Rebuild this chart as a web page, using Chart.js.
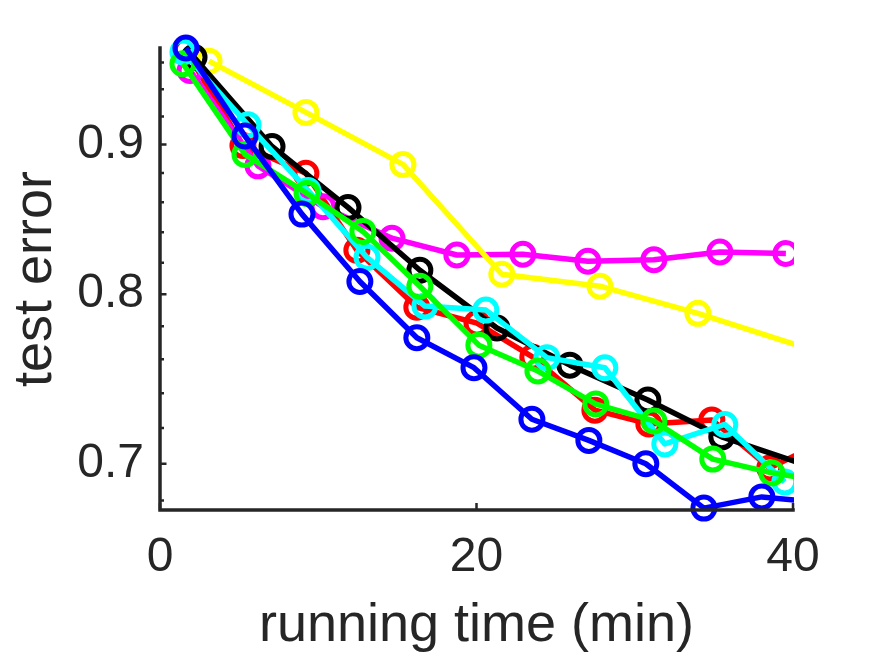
<!DOCTYPE html>
<html>
<head>
<meta charset="utf-8">
<title>test error vs running time</title>
<script src="https://cdn.jsdelivr.net/npm/chart.js@4.4.1/dist/chart.umd.min.js"></script>
<style>
  html, body { margin: 0; padding: 0; background: #ffffff; }
  #wrap { width: 875px; height: 656px; }
</style>
</head>
<body>
<div id="wrap"><canvas id="chart" width="875" height="656"></canvas></div>
<script>
// running time (min) / test error per run
const blueTime  = [1.64, 5.37, 8.97, 12.63, 16.23, 19.84, 23.50, 27.10, 30.70, 34.37, 38.03, 41.69];
const blueError = [0.971, 0.906, 0.852, 0.808, 0.773, 0.755, 0.725, 0.713, 0.700, 0.676, 0.682, 0.679];

const greenTime  = [1.45, 5.37, 9.29, 12.82, 16.42, 20.15, 23.88, 27.54, 31.21, 34.93, 38.66, 42.39];
const greenError = [0.959, 0.893, 0.866, 0.8405, 0.805, 0.7685, 0.753, 0.7337, 0.724, 0.7026, 0.695, 0.690];

const cyanTime  = [1.45, 5.56, 9.35, 13.08, 16.74, 20.59, 24.45, 28.11, 31.90, 35.69, 39.48];
const cyanError = [0.968, 0.914, 0.868, 0.8235, 0.7925, 0.790, 0.761, 0.755, 0.711, 0.722, 0.690];

const blackTime  = [2.15, 7.08, 11.88, 16.42, 21.29, 25.90, 30.83, 35.50, 40.24];
const blackError = [0.964, 0.8986, 0.8565, 0.8152, 0.779, 0.7565, 0.736, 0.715, 0.701];

const yellowTime  = [3.10, 9.22, 15.35, 21.60, 27.80, 33.99, 40.11];
const yellowError = [0.961, 0.923, 0.886, 0.8126, 0.805, 0.788, 0.769];

const magentaTime  = [1.90, 6.19, 10.30, 14.66, 18.76, 22.93, 27.04, 31.21, 35.38, 39.55];
const magentaError = [0.954, 0.885, 0.857, 0.836, 0.825, 0.8255, 0.821, 0.822, 0.827, 0.826];

const redTime  = [1.64, 5.24, 9.22, 12.44, 16.23, 20.03, 23.56, 27.48, 30.89, 34.87, 38.53, 41.38];
const redError = [0.969, 0.8993, 0.8798, 0.8281, 0.7918, 0.7819, 0.7613, 0.7302, 0.7223, 0.7246, 0.6977, 0.710];

const xTicks = [0, 20, 40];
const yTicks = [0.7, 0.8, 0.9];
const yMinorTicks = [0.68, 0.72, 0.74, 0.76, 0.78, 0.82, 0.84, 0.86, 0.88, 0.92, 0.94, 0.96];

const X_MIN = 0, X_MAX = 40;
const Y_MIN = 0.675, Y_MAX = 0.971;
const AXIS_COLOR = '#262626';
const FONT = "'Liberation Sans', Arial, Helvetica, sans-serif";

function points(t, e) {
    return t.map((x, i) => ({ x: x, y: e[i] }));
}

// matlab style: open circles, markers outside the x limits are not drawn
function series(label, color, t, e) {
    return {
        label: label,
        data: points(t, e),
        borderColor: color,
        backgroundColor: color,
        borderWidth: 5.5,
        borderJoinStyle: 'round',
        tension: 0,
        pointStyle: 'circle',
        pointRadius: (ctx) => (ctx.raw && ctx.raw.x > X_MAX ? 0 : 11),
        pointBorderWidth: 5,
        pointBorderColor: color,
        pointBackgroundColor: 'rgba(0,0,0,0)',
        clip: { left: 20, top: 20, right: 1, bottom: 20 },
    };
}

const matlabAxes = {
    id: 'matlabAxes',
    afterDatasetsDraw(chart) {
        const { ctx, chartArea: a, scales: { x, y } } = chart;
        ctx.save();
        ctx.strokeStyle = AXIS_COLOR;
        ctx.lineWidth = 3.5;
        ctx.lineCap = 'square';
        ctx.beginPath();
        ctx.moveTo(a.left, a.top);
        ctx.lineTo(a.left, a.bottom);
        ctx.lineTo(a.right, a.bottom);
        ctx.stroke();

        ctx.lineCap = 'butt';
        ctx.lineWidth = 2.5;
        ctx.beginPath();
        xTicks.forEach(v => {
            const px = x.getPixelForValue(v);
            ctx.moveTo(px, a.bottom);
            ctx.lineTo(px, a.bottom - 7);
        });
        yTicks.forEach(v => {
            const py = y.getPixelForValue(v);
            ctx.moveTo(a.left, py);
            ctx.lineTo(a.left + 6.5, py);
        });
        yMinorTicks.forEach(v => {
            const py = y.getPixelForValue(v);
            ctx.moveTo(a.left, py);
            ctx.lineTo(a.left + 4, py);
        });
        ctx.stroke();
        ctx.restore();
    }
};

const ctx = document.getElementById('chart');

new Chart(ctx, {
    type: 'line',
    data: {
        // first dataset ends up on top
        datasets: [
            series('blue', '#0000ff', blueTime, blueError),
            series('green', '#00ff00', greenTime, greenError),
            series('cyan', '#00ffff', cyanTime, cyanError),
            series('black', '#000000', blackTime, blackError),
            series('yellow', '#ffff00', yellowTime, yellowError),
            series('magenta', '#ff00ff', magentaTime, magentaError),
            series('red', '#ff0000', redTime, redError),
        ]
    },
    options: {
        responsive: false,
        animation: false,
        devicePixelRatio: 1,
        events: [],
        layout: {
            padding: { left: 0, top: 48, right: 82, bottom: 0 }
        },
        plugins: {
            legend: { display: false },
            tooltip: { enabled: false },
            title: { display: false }
        },
        scales: {
            x: {
                type: 'linear',
                min: X_MIN,
                max: X_MAX,
                bounds: 'data',
                grid: { display: false, drawTicks: false },
                border: { display: false },
                afterBuildTicks: (scale) => {
                    scale.ticks = xTicks.map(v => ({ value: v }));
                },
                afterFit: (scale) => { scale.height = 146; },
                ticks: {
                    color: AXIS_COLOR,
                    padding: 18.7,
                    maxRotation: 0,
                    autoSkip: false,
                    font: { family: FONT, size: 48, lineHeight: 1.2 },
                    callback: (v) => String(v)
                },
                title: {
                    display: true,
                    text: 'running time (min)',
                    color: AXIS_COLOR,
                    padding: { top: 0, bottom: 2.7 },
                    font: { family: FONT, size: 54, lineHeight: 1 }
                }
            },
            y: {
                type: 'logarithmic',
                min: Y_MIN,
                max: Y_MAX,
                bounds: 'data',
                grid: { display: false, drawTicks: false },
                border: { display: false },
                afterBuildTicks: (scale) => {
                    scale.ticks = yTicks.map(v => ({ value: v }));
                },
                afterFit: (scale) => { scale.width = 160; },
                ticks: {
                    color: AXIS_COLOR,
                    padding: 16,
                    autoSkip: false,
                    font: { family: FONT, size: 48, lineHeight: 1.2 },
                    callback: (v) => Number(v).toFixed(1)
                },
                title: {
                    display: true,
                    text: 'test error',
                    color: AXIS_COLOR,
                    padding: { top: 9.3, bottom: 0 },
                    font: { family: FONT, size: 54, lineHeight: 1 }
                }
            }
        }
    },
    plugins: [matlabAxes]
});
</script>
</body>
</html>
